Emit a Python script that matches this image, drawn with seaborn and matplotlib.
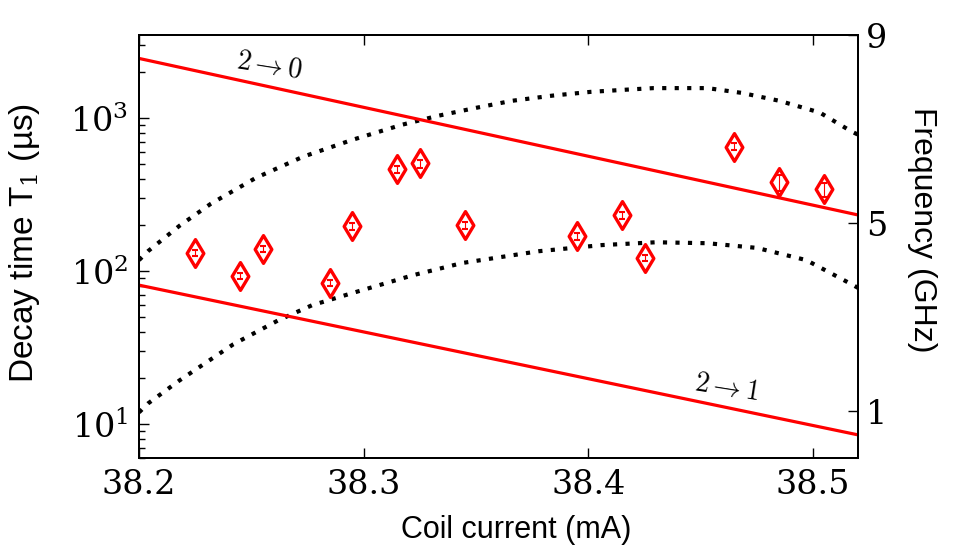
import numpy as np
import pandas as pd
import matplotlib
matplotlib.use("Agg")
import matplotlib.pyplot as plt
import seaborn as sns

# ---------------- data ----------------
# measured T1 (us) vs coil current (mA)
current = [38.225, 38.245, 38.255, 38.285, 38.295, 38.315, 38.325,
           38.345, 38.395, 38.415, 38.425, 38.465, 38.485, 38.505]
t1 = [131, 93, 139, 84, 196, 462, 506, 199, 169, 232, 122, 652, 380, 342]
t1_err = [6, 4, 6, 4, 9, 22, 30, 9, 8, 12, 6, 35, 45, 35]

# model decay lines (us)
line_x = [38.2, 38.52]
t1_20 = [2460, 233]
t1_21 = [81, 8.5]

# transition frequencies (GHz)
f_up_x = [38.200, 38.204, 38.218, 38.232, 38.252, 38.273, 38.295, 38.317, 38.333,
          38.350, 38.366, 38.384, 38.401, 38.418, 38.429, 38.453, 38.468, 38.485,
          38.503, 38.517, 38.520]
f_up = [4.21, 4.40, 4.94, 5.41, 5.96, 6.41, 6.77, 7.09, 7.28,
        7.45, 7.60, 7.71, 7.79, 7.84, 7.87, 7.87, 7.77, 7.60,
        7.35, 6.95, 6.88]
f_lo_x = [38.200, 38.204, 38.218, 38.242, 38.262, 38.277, 38.295, 38.322, 38.344,
          38.378, 38.406, 38.430, 38.453, 38.475, 38.497, 38.517, 38.520]
f_lo = [0.97, 1.16, 1.65, 2.42, 2.93, 3.25, 3.51, 3.89, 4.15,
        4.40, 4.53, 4.59, 4.57, 4.47, 4.21, 3.70, 3.62]

x_ticks = [38.2, 38.3, 38.4, 38.5]
f_ticks = [1, 5, 9]

# ---------------- style ----------------
sns.set_style("white")
plt.rcParams["font.family"] = ["DejaVu Serif"]
plt.rcParams["mathtext.fontset"] = "dejavuserif"
for k in ("text.color", "axes.labelcolor", "xtick.color", "ytick.color", "axes.edgecolor"):
    plt.rcParams[k] = "black"

fig = plt.figure(figsize=(9.59, 5.59), dpi=100)
ax = fig.add_axes([139 / 959, 1 - 458 / 559, 719 / 959, 423 / 559])
ax2 = ax.twinx()

red = "#ff0000"

# model lines
sns.lineplot(x=line_x, y=t1_20, ax=ax, color=red, lw=2.3, estimator=None, sort=False)
sns.lineplot(x=line_x, y=t1_21, ax=ax, color=red, lw=2.3, estimator=None, sort=False)

# data
df = pd.DataFrame({"I": current, "T1": t1, "err": t1_err})
sns.scatterplot(data=df, x="I", y="T1", ax=ax, marker="d", s=200,
                facecolor="white", edgecolor=red, linewidth=2.4, zorder=3)
ax.errorbar(df["I"], df["T1"], yerr=df["err"], fmt="none", ecolor=red,
            elinewidth=0.8, capsize=2.5, capthick=1.5, zorder=5)

# frequency curves
dots = (0, (1, 2.0))
sns.lineplot(x=f_up_x, y=f_up, ax=ax2, color="black", lw=3.0, linestyle=dots,
             estimator=None, sort=False)
sns.lineplot(x=f_lo_x, y=f_lo, ax=ax2, color="black", lw=3.0, linestyle=dots,
             estimator=None, sort=False)

# axes
ax.set_yscale("log")
ax.set_xlim(38.2, 38.52)
ax.set_ylim(6, 3500)
ax2.set_ylim(0, 9)
ax.set_xticks(x_ticks)
ax.set_xticklabels([f"{v:.1f}" for v in x_ticks])
ax2.set_yticks(f_ticks)
ax2.set_yticklabels([str(v) for v in f_ticks])

for a in (ax, ax2):
    for s in a.spines.values():
        s.set_linewidth(1.4)
        s.set_color("black")
ax.tick_params(axis="both", which="major", direction="in", length=7, width=1,
               labelsize=24, pad=8)
ax.tick_params(axis="x", top=True, bottom=True)
ax.tick_params(axis="y", which="minor", direction="in", length=4, width=1, left=True)
ax.tick_params(axis="y", which="both", right=False, left=True)
ax2.tick_params(axis="y", which="major", direction="in", length=7, width=1,
                labelsize=24, pad=6, right=True, left=False)
ax2.tick_params(axis="y", which="minor", right=False, left=False)

ax.set_xlabel("Coil current (mA)", va="center", family=["Liberation Sans"], fontsize=22)
ax.set_ylabel("Decay time T$_1$ (µs)", va="center", ha="center",
              family=["Liberation Sans"], fontsize=24)
ax2.set_ylabel("Frequency (GHz)", rotation=270, va="center", ha="center",
               family=["Liberation Sans"], fontsize=23)
ax.xaxis.set_label_coords((516 - 139) / 719, (458 - 530) / 423)
ax.yaxis.set_label_coords((25 - 139) / 719, (458 - 243) / 423)
ax2.yaxis.set_label_coords((922 - 139) / 719, (458 - 230) / 423)

# annotations
ax.text(38.258, 2215, r"$2\rightarrow\mathit{0}$", fontsize=20, rotation=-9,
        ha="center", va="center", math_fontfamily="cm")
ax.text(38.4617, 17.4, r"$2\rightarrow\mathit{1}$", fontsize=20, rotation=-9,
        ha="center", va="center", math_fontfamily="cm")

ax.set_zorder(ax2.get_zorder() + 1)
ax.patch.set_visible(False)

fig.savefig("out.png", dpi=100)
